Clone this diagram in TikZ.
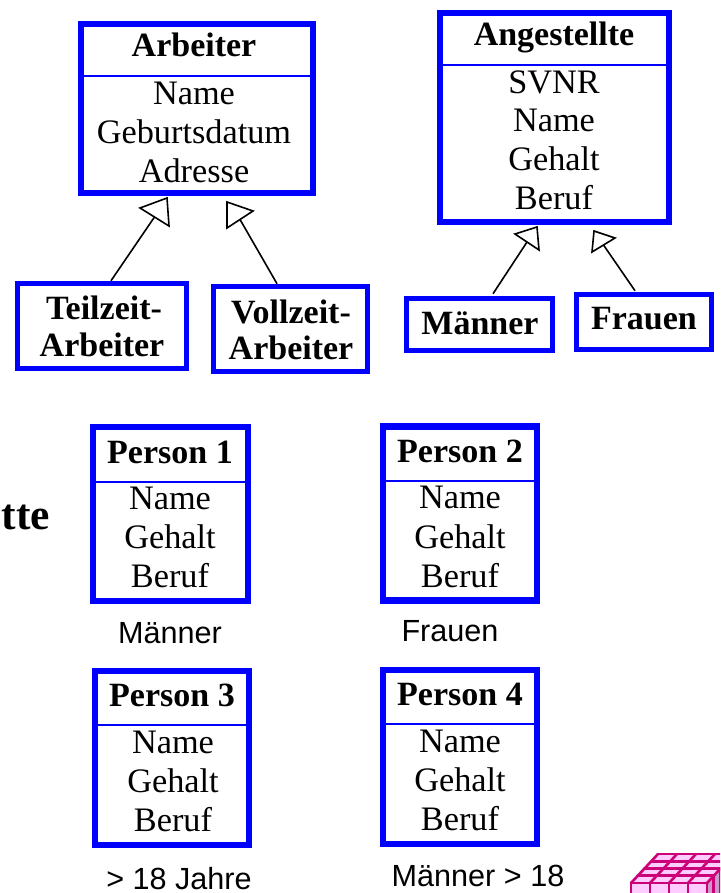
\documentclass[tikz,border=0pt]{standalone}
\usepackage{fontspec}
\setmainfont{Liberation Serif}
\newfontfamily\lsans{Liberation Sans}
\definecolor{umlblue}{RGB}{0,0,255}
\definecolor{cubeline}{RGB}{204,0,119}
\definecolor{cubefill}{RGB}{255,204,255}
\definecolor{cubeside}{RGB}{204,153,204}
\tikzset{
  x=1pt,y=-1pt,
  umlbox/.style={draw=umlblue,line width=6.5pt,inner sep=0pt,fill=white},
  smallbox/.style={draw=umlblue,line width=5.5pt,inner sep=0pt,fill=white},
  divider/.style={draw=umlblue,line width=1.6pt},
  bodytext/.style={anchor=base,inner sep=0pt,yshift=-1pt,font=\fontsize{34.3}{39}\selectfont},
  titletext/.style={anchor=base,inner sep=0pt,yshift=-1pt,font=\fontsize{34}{38}\selectfont\bfseries},
  sanstext/.style={anchor=base,inner sep=0pt,font=\fontsize{30.6}{34}\selectfont\lsans},
  inheritline/.style={draw=black,line width=1.6pt},
  inherithead/.style={draw=black,line width=1.6pt,line join=miter,fill=white},
  cubeedge/.style={draw=cubeline,line width=2.6pt,line cap=round,line join=round}
}
\begin{document}
\begin{tikzpicture}
\useasboundingbox (0,0) rectangle (720,893);
\fill[white] (0,0) rectangle (720,893);

% Arbeiter hierarchy
\node[umlbox,minimum width=232pt,minimum height=169pt] (arb) at (197,108.5) {};
\draw[divider] (81,76) -- (313,76);
\node[titletext] (arbT) at (194,56) {Arbeiter};
\node[bodytext] (arb1) at (194,104) {Name};
\node[bodytext] (arb2) at (194,143) {Geburtsdatum};
\node[bodytext] (arb3) at (194,182) {Adresse};

\node[smallbox,minimum width=169pt,minimum height=85pt] (tz) at (102,326) {};
\node[titletext] (tz1) at (104,318) {Teilzeit-};
\node[titletext] (tz2) at (102,355) {Arbeiter};

\node[smallbox,minimum width=154pt,minimum height=85pt] (vz) at (290.5,329) {};
\node[titletext] (vz1) at (291,322) {Vollzeit-};
\node[titletext] (vz2) at (291,358) {Arbeiter};

\coordinate (headA) at (154.5,217);
\coordinate (headB) at (240,219.5);
\draw[inheritline] ([xshift=9pt]tz.north) -- (headA);
\draw[inheritline] ([xshift=-13.5pt]vz.north) -- (headB);
\draw[inherithead] (167,198) -- (140,208) -- (169,226) -- cycle;
\draw[inherithead] (227,202) -- (253,211) -- (227,228) -- cycle;

% Angestellte hierarchy
\node[umlbox,minimum width=229pt,minimum height=209pt] (ang) at (554.5,117.5) {};
\draw[divider] (441,65) -- (668,65);
\node[titletext] (angT) at (554,45) {Angestellte};
\node[bodytext] (ang1) at (554,93) {SVNR};
\node[bodytext] (ang2) at (554,131) {Name};
\node[bodytext] (ang3) at (554,170) {Gehalt};
\node[bodytext] (ang4) at (554,209) {Beruf};

\node[smallbox,minimum width=146pt,minimum height=52pt] (man) at (479.5,324.5) {};
\node[titletext] (manT) at (480,333) {Männer};
\node[smallbox,minimum width=135pt,minimum height=55pt] (fra) at (644,322) {};
\node[titletext] (fraT) at (644,328) {Frauen};

\coordinate (headC) at (527,242);
\coordinate (headD) at (603.5,245);
\draw[inheritline] ([xshift=13.5pt,yshift=2pt]man.north) -- (headC);
\draw[inheritline] ([xshift=-9pt,yshift=1pt]fra.north) -- (headD);
\draw[inherithead] (537,227) -- (515,234) -- (539,250) -- cycle;
\draw[inherithead] (594,231) -- (615,238) -- (592,252) -- cycle;

% clipped title
\node[anchor=base east,inner sep=0pt,font=\fontsize{43.5}{46}\selectfont\bfseries] (tte) at (50,529) {tte};

% Person 1
\node[umlbox,minimum width=155pt,minimum height=174pt] (p1) at (170.5,514) {};
\draw[divider] (93,482) -- (248,482);
\node[titletext] (p1T) at (170,462) {Person 1};
\node[bodytext] (p1a) at (170,508) {Name};
\node[bodytext] (p1b) at (170,547) {Gehalt};
\node[bodytext] (p1c) at (170,586) {Beruf};
\node[sanstext] (p1L) at (170,643) {Männer};

% Person 2
\node[umlbox,minimum width=154pt,minimum height=174pt] (p2) at (460,513.5) {};
\draw[divider] (383,481) -- (537,481);
\node[titletext] (p2T) at (460,461) {Person 2};
\node[bodytext] (p2a) at (460,507) {Name};
\node[bodytext] (p2b) at (460,547) {Gehalt};
\node[bodytext] (p2c) at (460,586) {Beruf};
\node[sanstext] (p2L) at (450,641) {Frauen};

% Person 3
\node[umlbox,minimum width=154pt,minimum height=174pt] (p3) at (172,758) {};
\draw[divider] (95,725) -- (249,725);
\node[titletext] (p3T) at (172,705) {Person 3};
\node[bodytext] (p3a) at (173,752) {Name};
\node[bodytext] (p3b) at (173,791) {Gehalt};
\node[bodytext] (p3c) at (173,830) {Beruf};
\node[sanstext] (p3L) at (179,889) {> 18 Jahre};

% Person 4
\node[umlbox,minimum width=154pt,minimum height=174pt] (p4) at (460,757) {};
\draw[divider] (383,724) -- (537,724);
\node[titletext] (p4T) at (460,704) {Person 4};
\node[bodytext] (p4a) at (460,751) {Name};
\node[bodytext] (p4b) at (460,790) {Gehalt};
\node[bodytext] (p4c) at (460,829) {Beruf};
\node[sanstext] (p4L) at (478,886) {Männer > 18};

% Cube logo, cut off by the page edge
\begin{scope}
\clip (0,0) rectangle (720,893);
\fill[cubefill] (631,883) -- (658,854) -- (734,854) -- (707,883) -- cycle;
\fill[cubefill] (631,883) rectangle (707,900);
\fill[cubeside] (707,883) -- (734,854) -- (734,900) -- (707,900) -- cycle;
\foreach \i in {0,1,2,3,4}{
  \draw[cubeedge] ({631+19*\i},883) -- ({658+19*\i},854);
  \draw[cubeedge] ({631+19*\i},883) -- ({631+19*\i},900);
  \draw[cubeedge] ({631+6.75*\i},{883-7.25*\i}) -- ({707+6.75*\i},{883-7.25*\i});
  \draw[cubeedge] ({707+6.75*\i},{883-7.25*\i}) -- ({707+6.75*\i},900);
}
\end{scope}
\end{tikzpicture}
\end{document}
